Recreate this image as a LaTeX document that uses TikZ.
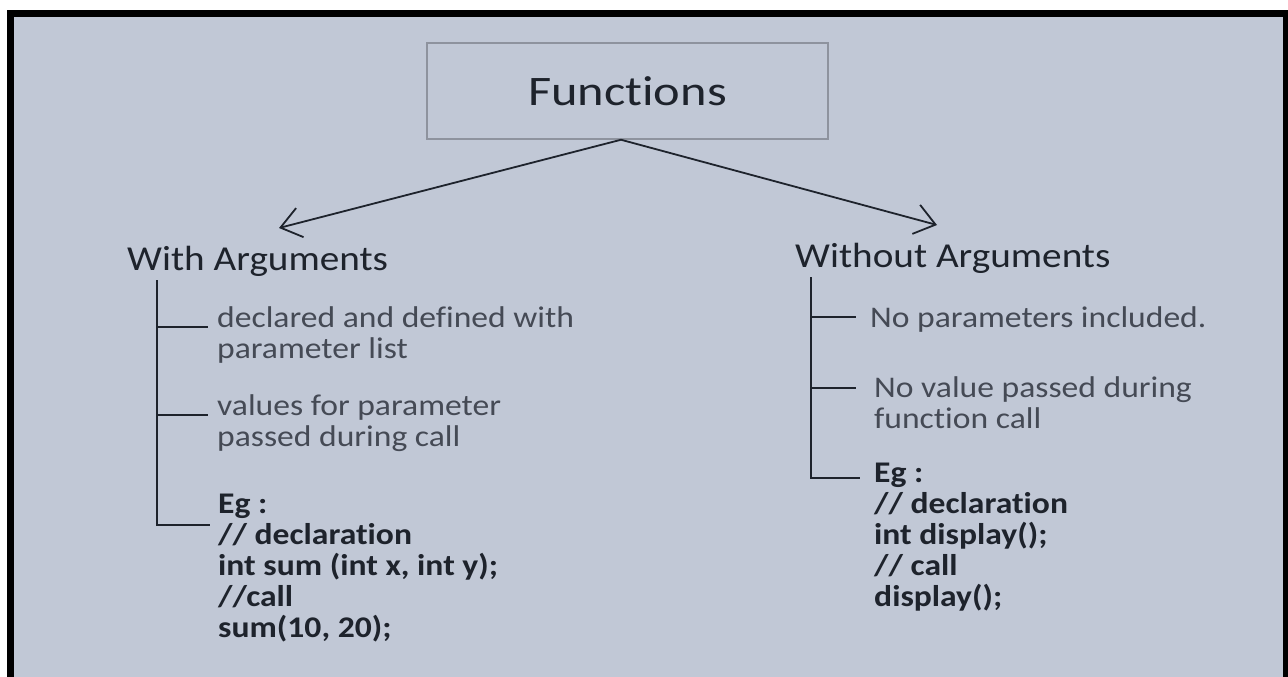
\documentclass[tikz,border=0pt]{standalone}
\usepackage{fontspec}
\setmainfont{Carlito}[FakeStretch=1.12,Ligatures=NoCommon]
\newfontfamily\titlefont{Carlito}[FakeStretch=1.2,Ligatures=NoCommon]
\usetikzlibrary{arrows.meta}
\definecolor{bg}{HTML}{C1C8D6}
\definecolor{ink}{HTML}{1E232C}
\definecolor{desctext}{HTML}{454A55}
\definecolor{boxline}{HTML}{8E939E}
\begin{document}
\begin{tikzpicture}[x=1pt,y=-1pt,
  heading/.style={anchor=base west, inner sep=0pt, text=ink, font=\fontsize{35}{40}\selectfont},
  desc/.style={anchor=base west, inner sep=0pt, align=left, text=desctext, font=\fontsize{30}{31}\selectfont},
  code/.style={anchor=base west, inner sep=0pt, align=left, text=ink, font=\fontsize{30}{31}\selectfont\bfseries},
  tree/.style={line width=2pt, draw=ink},
  arr/.style={line width=1.8pt, draw=ink, -{Straight Barb[length=20pt,width=30pt]}}]
% frame and background
\fill[white] (0,0) rectangle (1288,677);
\fill[black] (7,10) rectangle (1288,677);
\fill[bg] (14,17) rectangle (1283,677);
\useasboundingbox (0,0) rectangle (1288,677);
% title
\node[draw=boxline, line width=1.5pt, minimum width=401pt, minimum height=96pt, inner sep=0pt,
      font=\titlefont\fontsize{42}{42}\selectfont, text=ink] (fn) at (627.5,91) {Functions};
% headings
\node[heading] (wa) at (127,270) {With Arguments};
\node[heading] (woa) at (795,267) {Without Arguments};
% arrows
\coordinate (tl) at (279,228);
\coordinate (tr) at (937,225);
\draw[arr] ([xshift=-6.5pt]fn.south) -- (tl);
\draw[arr] ([xshift=-6.5pt]fn.south) -- (tr);
% left texts (anchor = baseline of last line)
\node[desc] (d1) at (217,358) {declared and defined with\\parameter list};
\node[desc] (d2) at (217,446) {values for parameter\\passed during call};
\node[code] (c1) at (218,637) {Eg :\\// declaration\\int sum (int x, int y);\\//call\\sum(10, 20);};
% right texts
\node[desc] (r1) at (870,327) {No parameters included.};
\node[desc] (r2) at (874,428) {No value passed during\\function call};
\node[code] (c2) at (874,606) {Eg :\\// declaration\\int display();\\// call\\display();};
% left tree
\draw[tree] (157,280) -- (157,525) -- (210,525);
\draw[tree] (157,327) -- (208,327);
\draw[tree] (157,415) -- (208,415);
% right tree
\draw[tree] (811,277) -- (811,478) -- (860,478);
\draw[tree] (811,317) -- (856,317);
\draw[tree] (811,388) -- (856,388);
\end{tikzpicture}
\end{document}
